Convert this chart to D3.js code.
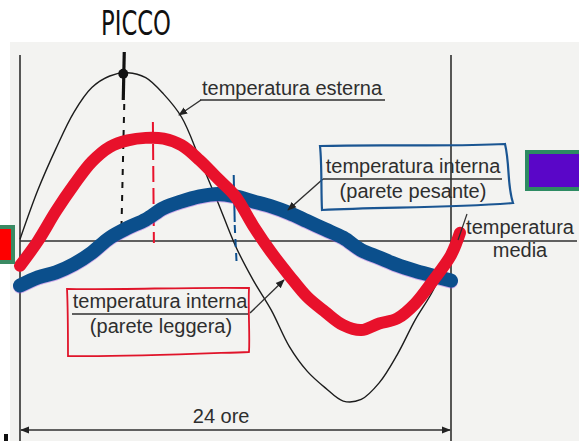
<!DOCTYPE html>
<html>
<head>
<meta charset="utf-8">
<script src="https://cdn.jsdelivr.net/npm/d3@7"></script>
<style>
  html, body { margin: 0; padding: 0; background: #fff; }
  svg { display: block; }
  .lbl { font-family: "Liberation Sans", Arial, sans-serif; font-size: 20px; fill: #2e2e2e; }
</style>
</head>
<body>
<div id="chart"></div>
<script>
// hours of the day (one full cycle = 24 ore)
var hours = [0, 1, 2, 3, 4, 5, 6, 7, 8, 9, 10, 11, 12, 13, 14, 15, 16, 17, 18, 19, 20, 21, 22, 23, 24];
// deviation from the mean temperature (arbitrary units)
var externalTemp = [0.1, 3.1, 5.6, 7.8, 9.3, 10.0, 10.2, 9.9, 8.9, 7.5, 5.0, 2.4, -0.3, -2.4, -4.2, -6.4, -7.9, -8.9, -9.7, -9.6, -8.6, -6.9, -4.8, -3.0, -0.5];
var heavyWallTemp = [-2.7, -2.2, -1.9, -1.4, -0.7, 0.2, 0.8, 1.3, 2.0, 2.4, 2.7, 2.85, 2.7, 2.4, 2.1, 1.7, 1.2, 0.7, 0.2, -0.55, -1.0, -1.45, -1.8, -2.1, -2.4];
// the hand-drawn light-wall curve runs a little past the frame
var lightHours = [0, 1, 2, 3, 4, 5, 6, 7, 8, 9, 10, 11, 12, 13, 14, 15, 16, 17, 18, 19, 20, 21, 22, 23, 24, 24.5];
var lightWallTemp = [-1.5, 0.0, 1.8, 3.4, 4.8, 5.7, 6.1, 6.25, 6.2, 5.8, 4.9, 3.8, 2.7, 0.9, -0.7, -2.1, -3.4, -4.3, -5.1, -5.4, -5.0, -4.7, -3.8, -2.4, -0.85, 0.5];
// hand-marked hours: peak of outside temp, peak light wall, peak heavy wall
var markHours = [5.75, 7.4, 11.9];
var durationLabel = "24 ore";

var W = 579, H = 441;
var svg = d3.select('#chart').append('svg')
    .attr('width', W)
    .attr('height', H);

var x = d3.scaleLinear().domain([0, 24]).range([20, 451]);
var y = d3.scaleLinear().domain([-10, 10]).range([406, 76]);

var defs = svg.append('defs');
defs.append('marker')
    .attr('id', 'arr')
    .attr('viewBox', '0 0 10 10')
    .attr('refX', 9).attr('refY', 5)
    .attr('markerWidth', 9).attr('markerHeight', 9)
    .attr('markerUnits', 'userSpaceOnUse')
    .attr('orient', 'auto-start-reverse')
    .append('path')
    .attr('d', 'M0,1L10,5L0,9Z')
    .attr('fill', '#222');

// grey scan background
svg.append('rect')
    .attr('x', 10).attr('y', 42)
    .attr('width', W - 10).attr('height', H - 42)
    .attr('fill', '#f3f3f1');

// frame
var ink = '#2f2f2f';
svg.append('line').attr('x1', x(0)).attr('x2', x(0)).attr('y1', 55).attr('y2', H)
    .attr('stroke', ink).attr('stroke-width', 1.6);
svg.append('line').attr('x1', x(24)).attr('x2', x(24)).attr('y1', 55).attr('y2', H)
    .attr('stroke', ink).attr('stroke-width', 1.6);
// mean line
svg.append('line').attr('x1', x(0)).attr('x2', 577).attr('y1', y(0)).attr('y2', y(0))
    .attr('stroke', ink).attr('stroke-width', 1.6);

// 24 hours dimension
svg.append('line').attr('x1', x(0) + 1).attr('x2', x(24) - 1).attr('y1', 430).attr('y2', 430)
    .attr('stroke', ink).attr('stroke-width', 1.6)
    .attr('marker-start', 'url(#arr)').attr('marker-end', 'url(#arr)');
svg.append('text').attr('class', 'lbl')
    .attr('x', x(11.2)).attr('y', 423)
    .attr('text-anchor', 'middle')
    .text(durationLabel);

var line = d3.line()
    .x(function (d) { return x(d[0]); })
    .y(function (d) { return y(d[1]); })
    .curve(d3.curveCatmullRom.alpha(0.5));

var zip = function (a, b) { return a.map(function (v, i) { return [v, b[i]]; }); };

// outside temperature
svg.append('path')
    .datum(zip(hours, externalTemp))
    .attr('d', line)
    .attr('fill', 'none')
    .attr('stroke', '#1c1c1c')
    .attr('stroke-width', 1.4);

// peak marker (hand drawn)
var peakX = x(markHours[0]);
svg.append('line').attr('x1', peakX + 1).attr('x2', peakX).attr('y1', 52).attr('y2', 100)
    .attr('stroke', '#111').attr('stroke-width', 3.2);
svg.append('line').attr('x1', peakX + 1).attr('x2', peakX - 2).attr('y1', 104).attr('y2', 236)
    .attr('stroke', '#111').attr('stroke-width', 2)
    .attr('stroke-dasharray', '6,7');
svg.append('circle').attr('cx', peakX).attr('cy', y(d3.max(externalTemp)) + 1).attr('r', 5)
    .attr('fill', '#111');
svg.append('text')
    .attr('x', 101).attr('y', 35)
    .attr('textLength', 70).attr('lengthAdjust', 'spacingAndGlyphs')
    .style('font-family', '"DejaVu Sans", sans-serif')
    .style('font-size', '33px')
    .style('fill', '#111')
    .text('PICCO');

// light wall: red dashed peak
svg.append('line').attr('x1', x(markHours[1])).attr('x2', x(markHours[1]) + 1).attr('y1', 122).attr('y2', 243)
    .attr('stroke', '#e8122c').attr('stroke-width', 2)
    .attr('stroke-dasharray', '16,6');

// heavy wall: blue peak mark
svg.append('line').attr('x1', x(markHours[2])).attr('x2', x(markHours[2]) + 1).attr('y1', 175).attr('y2', 222)
    .attr('stroke', '#0d4f8e').attr('stroke-width', 2);
svg.append('line').attr('x1', x(markHours[2]) + 1).attr('x2', x(markHours[2]) + 3).attr('y1', 225).attr('y2', 265)
    .attr('stroke', '#0d4f8e').attr('stroke-width', 2)
    .attr('stroke-dasharray', '8,6');

// heavy wall curve (faint purple highlighter fringe underneath)
svg.append('path')
    .datum(zip(hours, heavyWallTemp))
    .attr('d', line)
    .attr('fill', 'none')
    .attr('stroke', '#9a4ae0')
    .attr('stroke-opacity', 0.45)
    .attr('stroke-width', 14)
    .attr('stroke-linecap', 'round')
    .attr('transform', 'translate(0,1)');
svg.append('path')
    .datum(zip(hours, heavyWallTemp))
    .attr('d', line)
    .attr('fill', 'none')
    .attr('stroke', '#0b4f8c')
    .attr('stroke-width', 14)
    .attr('stroke-linecap', 'round')
    .attr('stroke-linejoin', 'round');

// light wall curve
svg.append('path')
    .datum(zip(lightHours, lightWallTemp))
    .attr('d', line)
    .attr('fill', 'none')
    .attr('stroke', '#e8112b')
    .attr('stroke-width', 12)
    .attr('stroke-linecap', 'round')
    .attr('stroke-linejoin', 'round');

// labels
// temperatura esterna
svg.append('text').attr('class', 'lbl').attr('x', 202).attr('y', 95).text('temperatura esterna');
svg.append('line').attr('x1', 200).attr('x2', 385).attr('y1', 100).attr('y2', 100)
    .attr('stroke', ink).attr('stroke-width', 1.4);
svg.append('line').attr('x1', 201).attr('x2', 179).attr('y1', 100).attr('y2', 115)
    .attr('stroke', ink).attr('stroke-width', 1.4).attr('marker-end', 'url(#arr)');

// temperatura interna (parete pesante)
svg.append('text').attr('class', 'lbl').attr('x', 413).attr('y', 173).attr('text-anchor', 'middle').text('temperatura interna');
svg.append('line').attr('x1', 323).attr('x2', 502).attr('y1', 179).attr('y2', 179)
    .attr('stroke', ink).attr('stroke-width', 1.4);
svg.append('text').attr('class', 'lbl').attr('x', 413).attr('y', 198).attr('text-anchor', 'middle').text('(parete pesante)');
svg.append('line').attr('x1', 323).attr('x2', 288).attr('y1', 179).attr('y2', 210)
    .attr('stroke', ink).attr('stroke-width', 1.4).attr('marker-end', 'url(#arr)');
svg.append('path')
    .attr('d', 'M320,146 C380,144 450,147 505,144 C510,165 507,185 513,203 C450,208 380,207 322,210 C321,190 322,165 320,146 Z')
    .attr('fill', 'none').attr('stroke', '#1a5592').attr('stroke-width', 2.2);

// temperatura interna (parete leggera)
svg.append('text').attr('class', 'lbl').attr('x', 160).attr('y', 308).attr('text-anchor', 'middle').text('temperatura interna');
svg.append('line').attr('x1', 72).attr('x2', 249).attr('y1', 314).attr('y2', 314)
    .attr('stroke', ink).attr('stroke-width', 1.4);
svg.append('text').attr('class', 'lbl').attr('x', 161).attr('y', 333).attr('text-anchor', 'middle').text('(parete leggera)');
svg.append('line').attr('x1', 250).attr('x2', 284).attr('y1', 313).attr('y2', 280)
    .attr('stroke', ink).attr('stroke-width', 1.4).attr('marker-end', 'url(#arr)');
svg.append('path')
    .attr('d', 'M67,289 C120,290 190,287 249,288 C248,310 250,335 249,352 C190,354 120,357 68,356 C68,335 68,310 67,289 Z')
    .attr('fill', 'none').attr('stroke', '#e0142a').attr('stroke-width', 1.8);

// temperatura media
svg.append('text').attr('class', 'lbl').attr('x', 520).attr('y', 234).attr('text-anchor', 'middle').text('temperatura');
svg.append('text').attr('class', 'lbl').attr('x', 520).attr('y', 257).attr('text-anchor', 'middle').text('media');
svg.append('line').attr('x1', 467).attr('x2', 458).attr('y1', 214).attr('y2', 240)
    .attr('stroke', ink).attr('stroke-width', 1.2);

// colour swatches
svg.append('rect').attr('x', 527).attr('y', 152).attr('width', 60).attr('height', 37)
    .attr('fill', '#5a06c8').attr('stroke', '#2d8b63').attr('stroke-width', 4);
svg.append('rect').attr('x', -5).attr('y', 227).attr('width', 18).attr('height', 35)
    .attr('fill', '#fe0000').attr('stroke', '#3a8a63').attr('stroke-width', 4);

// stray mark bottom-left
svg.append('rect').attr('x', 4).attr('y', 434).attr('width', 4).attr('height', 7).attr('fill', '#111');
</script>
</body>
</html>
